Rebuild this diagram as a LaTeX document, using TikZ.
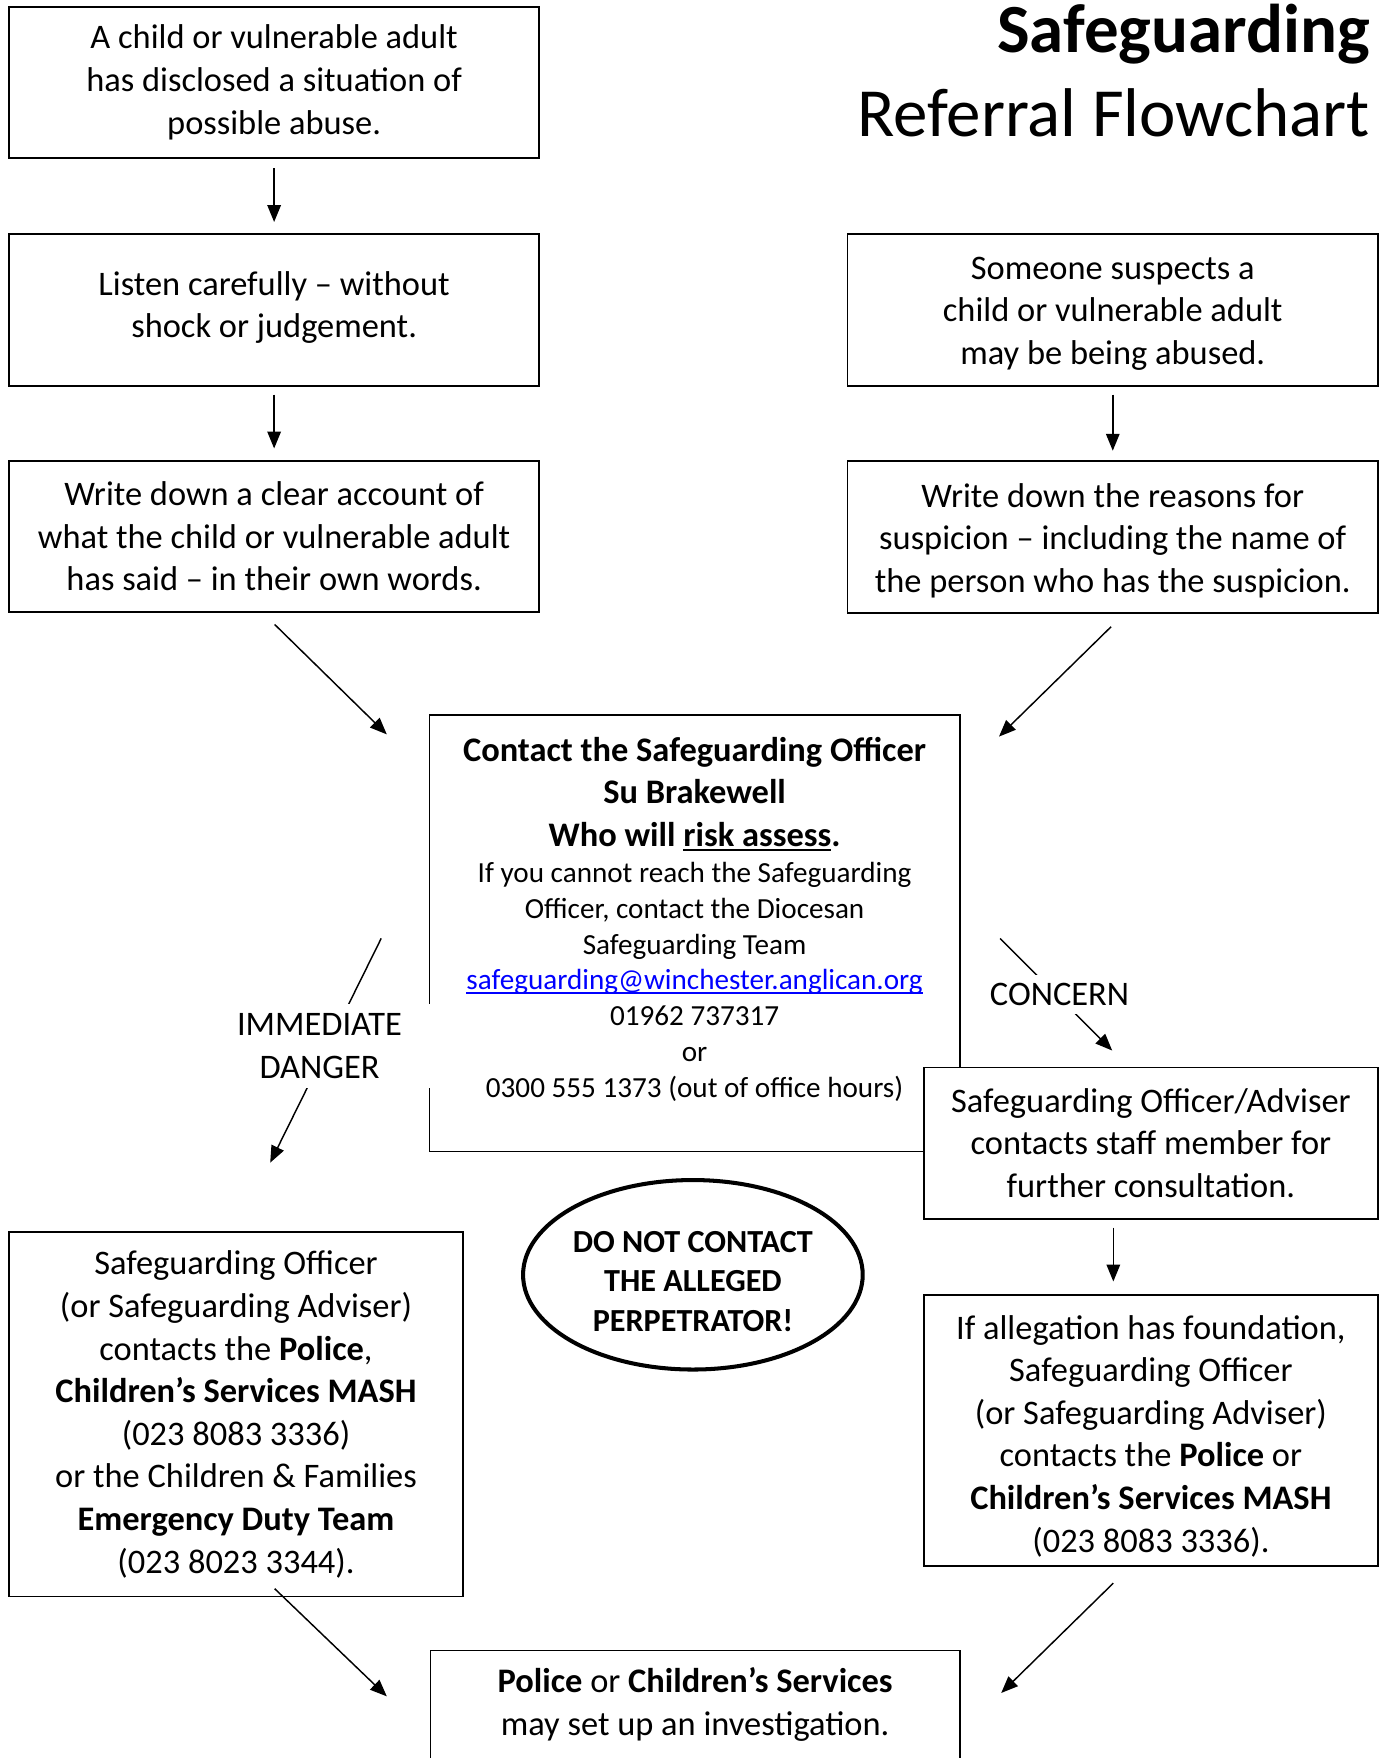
\documentclass[tikz,border=0pt]{standalone}
\usepackage{fontspec}
\setmainfont{Carlito}
\usetikzlibrary{calc,arrows.meta,shapes.geometric}
\definecolor{linkblue}{RGB}{0,0,255}
\newcommand\fbody{\fontsize{30.7pt}{38pt}\selectfont}
\newcommand\fsmall{\fontsize{26pt}{32pt}\selectfont}
\newcommand\foval{\fontsize{28.7pt}{35pt}\selectfont\bfseries}
\newcommand\ftitle{\fontsize{61.5pt}{74pt}\selectfont}
\newcommand\myul[1]{\setbox0\hbox{#1}\rlap{\rule[-4pt]{\wd0}{1.8pt}}\box0}
\newcommand\lift[1]{\rule{0pt}{#1}}
\tikzset{
  box/.style={draw, line width=1.5pt, fill=white, outer sep=0pt, inner sep=0pt, align=center, font=\fbody},
  arr/.style={line width=1.3pt, -{Triangle[length=15pt,width=12pt]}},
  lbl/.style={fill=white, inner sep=0pt, align=center, font=\fbody},
}
\begin{document}
\begin{tikzpicture}[x=1pt,y=-1pt]
\useasboundingbox (0,0) rectangle (1235,1568);
% title
\node[anchor=base east, font=\ftitle\bfseries, inner sep=0pt] (T1) at (1222,47) {Safeguarding};
\node[anchor=base east, font=\ftitle, inner sep=0pt] (T2) at (1222,122) {Referral Flowchart};
% left column
\node[box, minimum width=473pt, minimum height=135pt] (A) at (244.5,73.5) {A child or vulnerable adult\\has disclosed a situation of\\possible abuse.};
\node[box, minimum width=473pt, minimum height=135pt] (B) at (244.5,276.5) {Listen carefully -- without\\shock or judgement.\rule[-10pt]{0pt}{0pt}};
\node[box, minimum width=473pt, minimum height=135pt] (C) at (244.5,478.5) {Write down a clear account of\\what the child or vulnerable adult\\has said -- in their own words.};
% right column
\node[box, minimum width=473pt, minimum height=135pt] (D) at (992.5,276.5) {\lift{26pt}Someone suspects a\\child or vulnerable adult\\may be being abused.};
\node[box, minimum width=473pt, minimum height=136pt] (E) at (992.5,479) {\lift{28pt}Write down the reasons for\\suspicion -- including the name of\\the person who has the suspicion.};
% centre box
\node[box, minimum width=473pt, minimum height=389pt] (Fbox) at (619.5,832.5) {};
\node[align=center, font=\fsmall, inner sep=0pt] (F) at (619.5,820) {{\fbody\bfseries Contact the Safeguarding Officer}\\[6pt]
{\fbody\bfseries Su Brakewell}\\[6pt]
{\fbody\bfseries Who will \myul{risk assess}.}\\[0pt]
If you cannot reach the Safeguarding\\
Officer, contact the Diocesan\\
Safeguarding Team\\
\textcolor{linkblue}{\myul{safeguarding@winchester.anglican.org}}\\
01962 737317\\
or\\
0300 555 1373 (out of office hours)};
\node[box, minimum width=405pt, minimum height=135pt] (G) at (1026.5,1019.5) {Safeguarding Officer/Adviser\\contacts staff member for\\further consultation.};
% oval
\node[ellipse, draw, line width=3.6pt, fill=white, minimum width=293pt, minimum height=169pt, inner sep=0pt, align=center, font=\foval] (O) at (618,1137) {\lift{30.5pt}DO NOT CONTACT\\THE ALLEGED\\PERPETRATOR!};
% lower boxes
\node[box, minimum width=405pt, minimum height=325pt] (H) at (210.5,1261.5) {Safeguarding Officer\\(or Safeguarding Adviser)\\contacts the \textbf{Police},\\\textbf{Children’s Services MASH}\\(023 8083 3336)\\or the Children \& Families\\\textbf{Emergency Duty Team}\\(023 8023 3344).};
\node[box, minimum width=405pt, minimum height=242pt] (I) at (1026.5,1276) {\lift{31pt}If allegation has foundation,\\Safeguarding Officer\\(or Safeguarding Adviser)\\contacts the \textbf{Police} or\\\textbf{Children’s Services MASH}\\(023 8083 3336).};
\node[box, draw=none, minimum width=472pt, minimum height=96pt] (J) at (620,1520) {\textbf{Police} or \textbf{Children’s Services}\\may set up an investigation.};
\draw[line width=1.5pt] (J.south west) -- (J.north west) -- (J.north east) -- (J.south east);
% connectors
\coordinate (idS) at ($(Fbox.west)+(-43,4.5)$);
\coordinate (idE) at ($(H.north)+(30.5,-62)$);
\coordinate (coS) at ($(Fbox.east)+(36,4.5)$);
\coordinate (coE) at ($(G.north)+(-34.5,-15)$);
\draw[arr] ($(A.south)+(0,9)$) -- ($(B.north)+(0,-11)$);
\draw[arr] ($(B.south)+(0,8)$) -- ($(C.north)+(0,-11)$);
\draw[arr] ($(D.south)+(0,8)$) -- ($(E.north)+(0,-9)$);
\draw[arr] ($(C.south)+(0.5,11)$) -- ($(Fbox.north west)+(-38,17)$);
\draw[arr] ($(E.south)+(-1.5,12)$) -- ($(Fbox.north east)+(35,19)$);
\draw[arr] (idS) -- (idE);
\draw[arr] (coS) -- (coE);
\draw[arr] ($(G.south)+(-33.5,8)$) -- ($(I.north)+(-33.5,-12)$);
\draw[arr] ($(H.south)+(34.5,-7)$) -- ($(J.north west)+(-39,41)$);
\draw[arr] ($(I.south)+(-33.5,15)$) -- ($(J.north east)+(37,38)$);
% labels
\node[lbl, minimum height=75pt, inner xsep=26pt] (ID) at (285,933) {IMMEDIATE\\DANGER};
\node[lbl, minimum height=35pt, inner xsep=2pt] (CO) at (945,887) {CONCERN};
\end{tikzpicture}
\end{document}
